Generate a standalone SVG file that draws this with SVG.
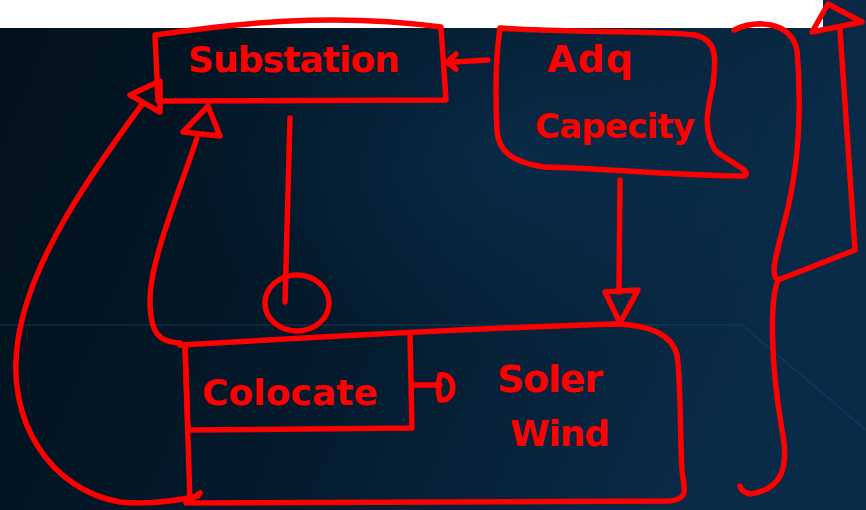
<svg xmlns="http://www.w3.org/2000/svg" width="866" height="510" viewBox="0 0 866 510">
<defs>
<linearGradient id="bg" x1="0" y1="0" x2="1" y2="0.25">
<stop offset="0" stop-color="#02111c"/>
<stop offset="0.45" stop-color="#031829"/>
<stop offset="1" stop-color="#0a2b48"/>
</linearGradient>
<radialGradient id="glow" cx="0.6" cy="0.3" r="0.4">
<stop offset="0" stop-color="#0c3455" stop-opacity="0.55"/>
<stop offset="1" stop-color="#0c3455" stop-opacity="0"/>
</radialGradient>
<style>
.s{fill:none;stroke:#ff0000;stroke-width:5.5;stroke-linecap:round;stroke-linejoin:round}
.t{fill:#ff0000;font-family:"DejaVu Sans","Noto Sans",sans-serif;font-weight:bold}
.bgl{fill:none;stroke:#1d4a6a;stroke-width:1.5;opacity:0.45}
</style>
</defs>
<rect width="866" height="510" fill="url(#bg)"/>
<rect width="866" height="510" fill="url(#glow)"/>
<path class="bgl" d="M0,325 L742,325 L866,430"/>
<rect x="0" y="0" width="823" height="28" fill="#ffffff"/>

<g id="substation">
<path class="s" d="M155,35 C230,24 330,12 441,27 L446,100 L158,101 Z"/>
<text class="t" x="188" y="72" font-size="36" textLength="212">Substation</text>
</g>

<g id="adq-capacity">
<path class="s" d="M500,28 C560,33 650,30 695,35 C718,40 716,60 713,85 C707,110 703,130 715,150 C728,162 752,170 745,176 C680,176 600,168 545,167 C510,162 498,150 497,130 C495,90 496,55 500,28 Z"/>
<text class="t" x="547" y="72" font-size="38" textLength="86">Adq</text>
<text class="t" x="535" y="138" font-size="34" textLength="160">Capecity</text>
</g>

<g id="solar-wind">
<path class="s" d="M180,345 C300,338 480,328 615,324 C650,325 672,335 677,355 C681,380 680,440 682,470 C684,490 690,498 670,501 L190,503 L185,345"/>
<text class="t" x="497" y="392" font-size="38" textLength="106">Soler</text>
<text class="t" x="510" y="446" font-size="36" textLength="100">Wind</text>
</g>

<g id="colocate">
<path class="s" d="M185,345 L188,430 L412,428 L410,335"/>
<text class="t" x="202" y="405" font-size="36" textLength="176">Colocate</text>
</g>

<g id="connectors">
<path class="s" d="M488,60 L454,62"/>
<path class="s" d="M456,54 L447,62 L456,69"/>
<path class="s" d="M620,180 L619,292"/>
<path class="s" d="M605,292 L638,290 L620,323 Z"/>
<path class="s" d="M290,118 L285,302"/>
<ellipse class="s" cx="297" cy="303" rx="32" ry="28"/>
<path class="s" d="M414,385 L440,385"/>
<path class="s" d="M440,375 C456,372 458,402 440,400 C438,392 438,382 440,375"/>
<path class="s" d="M197,138 C180,190 150,260 150,300 C150,335 160,342 180,343"/>
<path class="s" d="M183,132 L208,106 L220,136 Z"/>
<path class="s" d="M143,103 C90,175 30,260 18,340 C5,420 50,490 120,502 C150,505 180,500 198,496"/>
<path class="s" d="M130,95 L160,81 L160,112 Z"/>
<path class="s" d="M200,493 L186,503"/>
<path class="s" d="M734,30 C755,20 790,20 797,50 C802,110 798,170 785,220 C775,260 770,275 778,280 C770,300 770,360 782,430 C790,470 780,490 750,494 C742,492 740,488 740,486"/>
<path class="s" d="M778,280 L855,250 L840,30"/>
<path class="s" d="M812,32 L828,4 L862,22 Z"/>
</g>
</svg>
